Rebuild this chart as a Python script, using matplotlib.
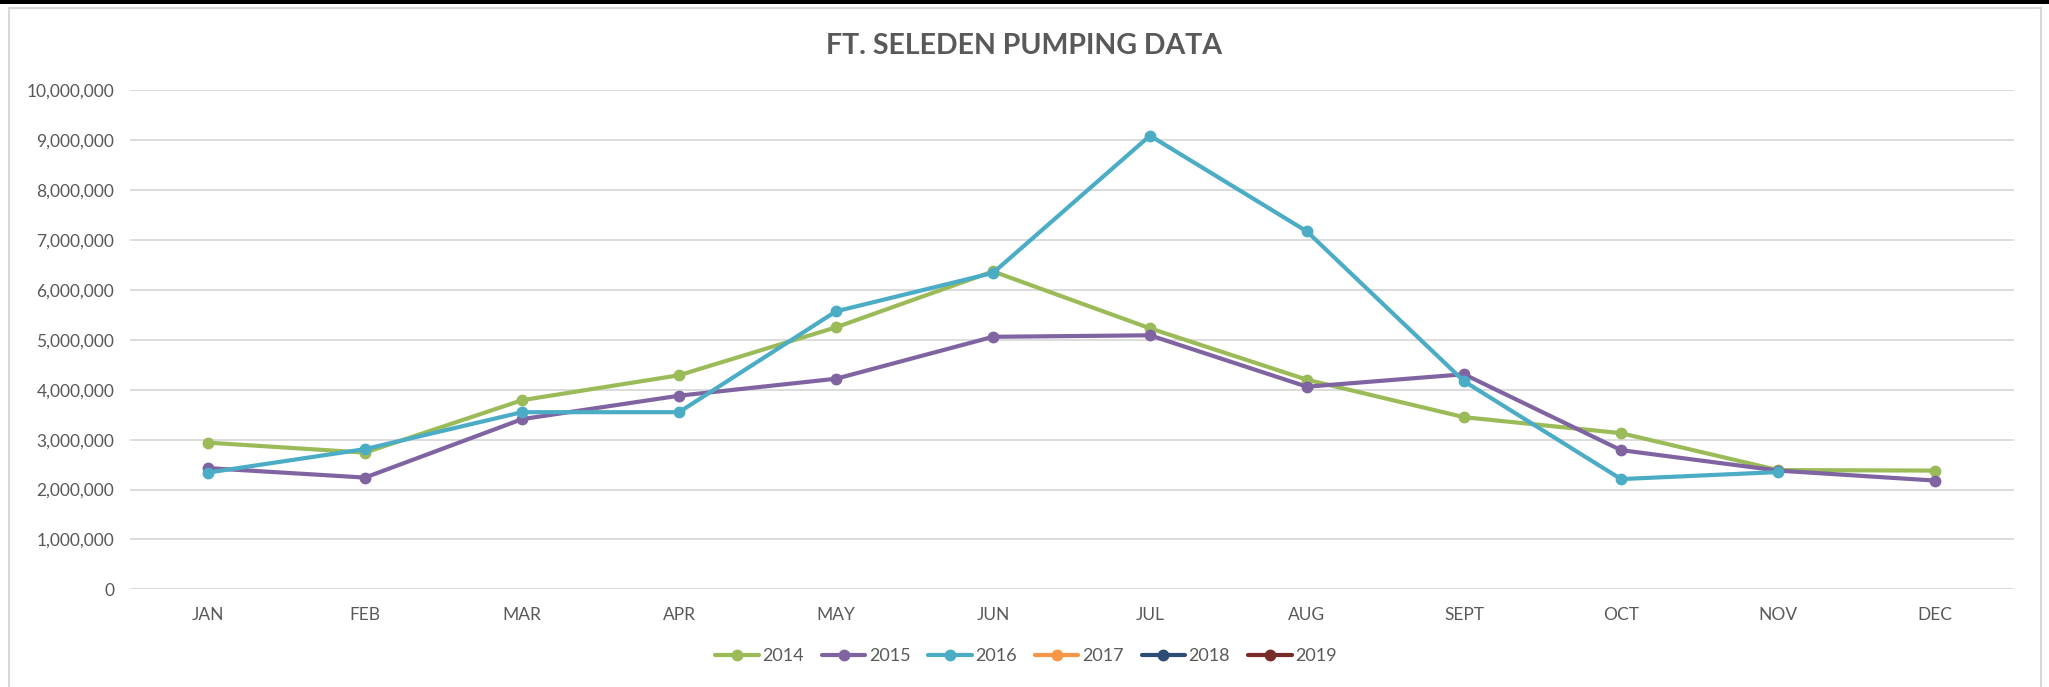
import numpy as np
import matplotlib.pyplot as plt
from matplotlib.patches import Rectangle
from matplotlib.ticker import FuncFormatter

months = ["JAN", "FEB", "MAR", "APR", "MAY", "JUN", "JUL", "AUG", "SEPT", "OCT", "NOV", "DEC"]
years = ["2014", "2015", "2016", "2017", "2018", "2019"]
colors = ["#9BBB59", "#8064A2", "#4BACC6", "#F79646", "#2C4D75", "#772C2A"]

nan = np.nan
pump_2014 = [2940000, 2740000, 3790000, 4290000, 5250000, 6370000,
             5230000, 4200000, 3450000, 3130000, 2390000, 2380000]
pump_2015 = [2430000, 2240000, 3410000, 3880000, 4220000, 5060000,
             5090000, 4060000, 4310000, 2790000, 2380000, 2180000]
pump_2016 = [2340000, 2810000, 3550000, 3550000, 5570000, 6340000,
             9090000, 7170000, 4170000, 2210000, 2350000, nan]
pump_2017 = [nan] * 12
pump_2018 = [nan] * 12
pump_2019 = [nan] * 12
series = [pump_2014, pump_2015, pump_2016, pump_2017, pump_2018, pump_2019]

plt.rcParams['font.family'] = ['Lato', 'DejaVu Sans']
text_color = "#595959"
grid_color = "#D9D9D9"

W, H = 2049, 687
fig = plt.figure(figsize=(W / 100, H / 100), dpi=100)

# spreadsheet cell border above the chart and the chart frame
fig.patches.append(Rectangle((0, 1 - 4 / H), 1, 4 / H, transform=fig.transFigure,
                             facecolor="black", edgecolor="none", zorder=-2))
fig.patches.append(Rectangle((9 / W, -0.05), (2041 - 9) / W, 1.05 - 8 / H,
                             transform=fig.transFigure, facecolor="white",
                             edgecolor=grid_color, linewidth=1.5, zorder=-1))

ax = fig.add_axes([129.5 / W, 97.6 / H, (2013.5 - 129.5) / W, (589.4 - 90.2) / H])
ax.set_facecolor("none")
ax.set_zorder(2)

x = np.arange(len(months))
for year, vals, c in zip(years, series, colors):
    ax.plot(x, vals, color=c, linewidth=3, marker="o", markersize=7.5,
            label=year, solid_capstyle="round", zorder=3)

ax.set_xlim(-0.5, len(months) - 0.5)
ax.set_ylim(0, 10000000)
ax.set_yticks(np.arange(0, 10000001, 1000000))
ax.yaxis.set_major_formatter(FuncFormatter(lambda v, p: "{:,.0f}".format(v)))
ax.set_xticks(x)
ax.set_xticklabels(months)
ax.grid(axis="y", color=grid_color, linewidth=1.3, zorder=0)
ax.set_axisbelow(True)
for s in ax.spines.values():
    s.set_visible(False)
ax.tick_params(axis="both", length=0, colors=text_color, labelsize=12.5)
ax.tick_params(axis="y", pad=11)
ax.tick_params(axis="x", pad=13)

fig.text(1024 / W, 1 - 46 / H, "FT. SELEDEN PUMPING DATA", ha="center", va="center",
         fontsize=20.5, fontweight="bold", color=text_color, zorder=3)

handles, labels = ax.get_legend_handles_labels()
leg = fig.legend(handles, labels, loc="center", bbox_to_anchor=(1026 / W, 1 - 656 / H),
                 ncol=6, frameon=False, fontsize=13, handlelength=2.4,
                 handletextpad=0.2, columnspacing=1.0, labelcolor=text_color)
leg.set_zorder(3)

fig.savefig("out.png", dpi=100)
